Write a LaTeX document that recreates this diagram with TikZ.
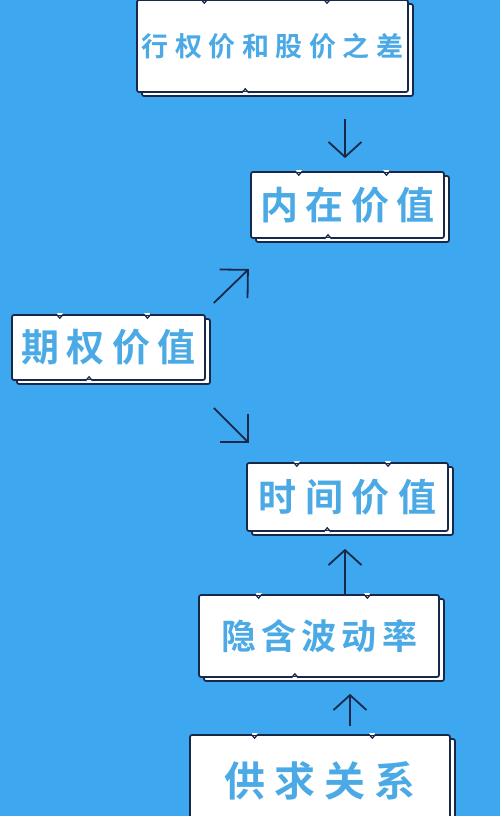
\documentclass[tikz,border=0pt]{standalone}
\usepackage{fontspec}
\newfontfamily\cjk{Noto Sans CJK SC}[BoldFont={Noto Sans CJK SC Bold}]
\usetikzlibrary{arrows.meta,shadows,calc}
\definecolor{bgblue}{HTML}{3DA8F0}
\definecolor{navy}{HTML}{17284A}
\definecolor{txtblue}{HTML}{4BAAE6}
\tikzset{
  card/.style={draw=navy, line width=1.7pt, fill=white, rounded corners=2pt, inner sep=0pt,
    text=txtblue, font=\cjk\bfseries, align=center,
    general shadow={fill=white, draw=navy, line width=1.7pt, shadow xshift=5pt, shadow yshift=-4pt}},
  notchline/.style={draw=navy, line width=1.3pt, line join=miter},
  arr/.style={draw=navy, line width=1.8pt, -{Straight Barb[length=15pt,width=33pt,line width=1.8pt]}},
  darr/.style={draw=navy, line width=1.8pt, -{Straight Barb[length=20pt,width=40pt,line width=1.8pt]}}
}
\newcommand{\topnotch}[2]{%
  \draw[white, line width=2.2pt] ($(#1.north west)!#2!(#1.north east)+(-3,0)$) -- ++(6,0);
  \draw[notchline] ($(#1.north west)!#2!(#1.north east)+(-3.5,0)$) -- ++(3.5,4) -- ++(3.5,-4);}
\newcommand{\botnotch}[2]{%
  \draw[white, line width=2.2pt] ($(#1.south west)!#2!(#1.south east)+(-3,0)$) -- ++(6,0);
  \draw[notchline] ($(#1.south west)!#2!(#1.south east)+(-3.5,0)$) -- ++(3.5,-4) -- ++(3.5,4);}
\begin{document}
\begin{tikzpicture}[x=1pt,y=-1pt]
\fill[bgblue] (0,0) rectangle (500,816);
\useasboundingbox (0,0) rectangle (500,816);

\node[card, minimum width=271pt, minimum height=92pt] (b1) at (272.5,46)
  {\raisebox{-2pt}{\fontsize{27}{30}\selectfont\addfontfeature{LetterSpace=24}行权价和股价之差}};
\node[card, minimum width=193pt, minimum height=66pt] (b2) at (347.5,205)
  {\raisebox{-3pt}{\fontsize{38}{40}\selectfont\addfontfeature{LetterSpace=20}内在价值}};
\node[card, minimum width=193pt, minimum height=65pt] (b3) at (108.5,347.5)
  {\raisebox{-2pt}{\fontsize{38}{40}\selectfont\addfontfeature{LetterSpace=20}期权价值}};
\node[card, minimum width=201pt, minimum height=68pt] (b4) at (347.5,497)
  {\raisebox{-1pt}{\fontsize{38}{40}\selectfont\addfontfeature{LetterSpace=22}时间价值}};
\node[card, minimum width=240pt, minimum height=82pt] (b5) at (319,636)
  {\raisebox{-2pt}{\fontsize{35}{38}\selectfont\addfontfeature{LetterSpace=15}隐含波动率}};
\node[card, minimum width=260pt, text height=61pt, text depth=70pt, anchor=base] (b6) at (320,796)
  {\fontsize{41}{44}\selectfont\addfontfeature{LetterSpace=22}供求关系};

\foreach \b in {b1,b2,b3,b4,b5,b6}{\topnotch{\b}{0.25}\topnotch{\b}{0.70}}
\foreach \b in {b1,b2,b3,b4,b5}{\botnotch{\b}{0.40}}

% connectors
\draw[arr, shorten <=26pt, shorten >=13pt] ([xshift=-2.5pt]b2.north |- b1.south) -- ([xshift=-2.5pt]b2.north);
\coordinate (d1s) at ($(b3.east)+(8,-44.5)$);
\coordinate (d1e) at ($(b3.east)+(43,-78.5)$);
\draw[darr] (d1s) -- (d1e);
\coordinate (d2s) at ($(b3.east)+(8,60.5)$);
\coordinate (d2e) at ($(b3.east)+(43,95.5)$);
\draw[darr] (d2s) -- (d2e);
\draw[arr, shorten >=17pt] ([xshift=-2.5pt]b4.south |- b5.north) -- ([xshift=-2.5pt]b4.south);
\draw[arr, shorten <=8pt, shorten >=16pt] ([xshift=30pt]b6.north) -- ([xshift=30pt]b6.north |- b5.south);
\end{tikzpicture}
\end{document}
